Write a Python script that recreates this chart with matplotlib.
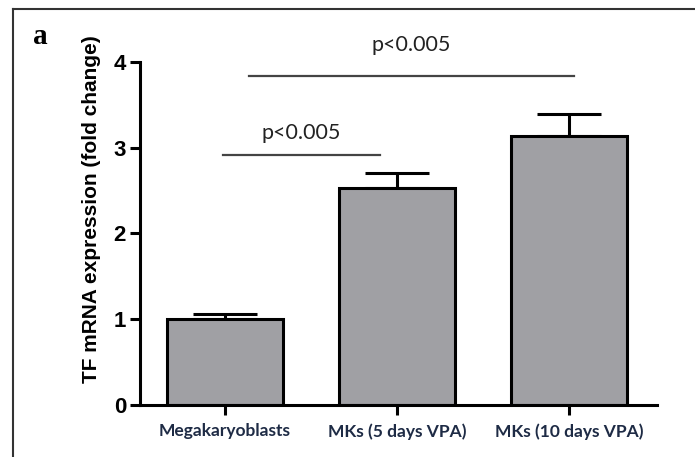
import matplotlib
matplotlib.use("Agg")
import matplotlib.pyplot as plt
from matplotlib.lines import Line2D

categories = ["Megakaryoblasts", "MKs (5 days VPA)", "MKs (10 days VPA)"]
values = [1.0, 2.53, 3.14]
errors = [0.06, 0.18, 0.25]
yticks = [0, 1, 2, 3, 4]
comparisons = [(0, 1, 2.92, 3.17, "p<0.005"), (0, 2, 3.84, 4.2, "p<0.005")]

W, H = 695, 457
fig = plt.figure(figsize=(W / 100, H / 100), dpi=100)
fig.patch.set_facecolor("white")

ax = fig.add_axes([140 / W, 1 - 405 / H, 517 / W, (405 - 13) / H])
x = list(range(len(categories)))
ax.bar(x, values, width=0.67, color="#a0a0a4", edgecolor="black", linewidth=2.2, zorder=2)
ax.errorbar(x, values, yerr=[[0] * len(errors), errors], fmt="none", ecolor="black",
            elinewidth=2.2, capsize=23, capthick=2.2, zorder=1)

ax.set_xlim(-0.494, 2.512)
ax.set_ylim(0, 4.57)
ax.set_yticks(yticks)
ax.set_yticklabels([str(t) for t in yticks], fontsize=16, fontweight="heavy", family="Liberation Sans")
ax.set_xticks(x)
ax.set_xticklabels(categories, fontsize=12.5, fontweight="bold", family="Lato", color="#1e2b45")
ax.tick_params(axis="both", width=2.2, length=7, direction="out")
ax.tick_params(axis="y", pad=3)
ax.tick_params(axis="x", pad=6)
for s in ["top", "right"]:
    ax.spines[s].set_visible(False)
for s in ["left", "bottom"]:
    ax.spines[s].set_linewidth(2.2)
ax.spines["left"].set_bounds(0, 4)
ax.set_ylabel("TF mRNA expression (fold change)", fontsize=15, fontweight="bold",
              family="Liberation Sans", labelpad=9)

for i, j, ly, ty, txt in comparisons:
    xs = 0.14 if j == 2 else -0.01
    xe = 2.03 if j == 2 else 0.90
    ax.plot([xs, xe], [ly, ly], color="#444444", lw=1.6, clip_on=False, zorder=3)
    ax.text((xs + xe) / 2, ty, txt, ha="center", va="center", fontsize=15.5, family="Lato",
            color="#222222", clip_on=False)

fig.add_artist(Line2D([13 / W, 1], [1 - 9 / H, 1 - 9 / H], color="#333333", lw=1.5,
                      transform=fig.transFigure))
fig.add_artist(Line2D([13 / W, 13 / W], [0, 1 - 9 / H], color="#333333", lw=1.5,
                      transform=fig.transFigure))
fig.text(40 / W, 1 - 37 / H, "a", fontsize=21, fontweight="bold", family="Liberation Serif",
         ha="center", va="center")

fig.savefig("out.png", dpi=100)
